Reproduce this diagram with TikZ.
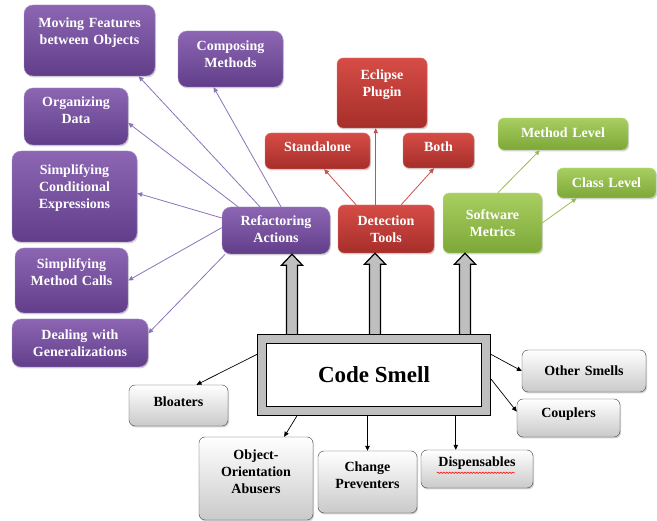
\documentclass[tikz,border=0pt]{standalone}
\usepackage{fontspec}
\setmainfont{Liberation Serif}
\usepackage{tikz}
\usetikzlibrary{
  arrows.meta,
  calc,
  shadows,
  decorations.pathmorphing
}
\definecolor{purptop}{RGB}{140,102,178}
\definecolor{purpbot}{RGB}{98,62,138}
\definecolor{purpedge}{RGB}{165,140,200}
\definecolor{purpline}{RGB}{140,115,185}
\definecolor{redtop}{RGB}{214,76,70}
\definecolor{redbot}{RGB}{166,46,42}
\definecolor{rededge}{RGB}{226,125,120}
\definecolor{redline}{RGB}{200,80,77}
\definecolor{greentop}{RGB}{168,206,96}
\definecolor{greenbot}{RGB}{124,168,56}
\definecolor{greenedge}{RGB}{192,222,142}
\definecolor{greenline}{RGB}{155,187,89}
\newcommand{\liftpad}[1]{\par\kern#1pt}

\begin{document}
\begin{tikzpicture}[x=1pt, y=-1pt,
  box/.style={rounded corners=6pt, align=center, inner xsep=0pt, inner ysep=0pt,
    font=\fontsize{14}{17}\selectfont\bfseries,
    drop shadow={shadow xshift=1pt, shadow yshift=-1.5pt, opacity=0.35}},
  wh/.style 2 args={text width=#1pt, minimum height=#2pt},
  lift/.style={execute at end node={\liftpad{#1}}},
  pbox/.style={box, rounded corners=9pt, top color=purptop, bottom color=purpbot, draw=purpedge, text=white},
  rbox/.style={box, top color=redtop, bottom color=redbot, draw=rededge, text=white},
  gbox/.style={box, top color=greentop, bottom color=greenbot, draw=greenedge, text=white},
  sbox/.style={box, top color=white, bottom color=gray!42, draw=black!75, text=black},
  smellbox/.style={draw=black, line width=1.3pt, double=gray!50, double distance=7.4pt,
    fill=white, minimum width=224pt, minimum height=72pt, outer sep=5pt,
    font=\fontsize{23}{26}\selectfont\bfseries},
  tip/.style={-{Triangle[length=5pt, width=4.5pt]}},
  pline/.style={tip, draw=purpline, line width=0.8pt},
  rline/.style={tip, draw=redline, line width=0.8pt},
  gline/.style={tip, draw=greenline, line width=0.8pt},
  kline/.style={tip, draw=black, line width=0.7pt},
  blockarrow/.style={draw=black, line width=1.2pt, fill=gray!50, line join=miter}]
  \useasboundingbox (0,0) rectangle (657,521);

  % Refactoring actions
  \node[pbox, wh={131}{71}, lift=15] (move) at (89.5,40.5) {Moving Features\\between Objects};
  \node[pbox, wh={105}{56}, lift=10] (compose) at (230.5,59) {Composing\\Methods};
  \node[pbox, wh={104}{57}, lift=13] (organize) at (76,116.5) {Organizing\\Data};
  \node[pbox, wh={125}{91}, lift=17] (condit) at (74.5,196.5) {Simplifying\\Conditional\\Expressions};
  \node[pbox, wh={113}{65}, lift=17] (calls) at (71.5,280.5) {Simplifying\\Method Calls};
  \node[pbox, wh={136}{48}] (general) at (80,343) {Dealing with\\Generalizations};
  \node[pbox, wh={108}{47}, lift=2] (refact) at (276,230.5) {Refactoring\\Actions};

  % Detection tools
  \node[rbox, wh={96}{48}] (detect) at (386,229) {Detection\\Tools};
  \node[rbox, wh={105}{36}, lift=8] (standalone) at (317.5,151) {Standalone};
  \node[rbox, wh={90}{70}, lift=16] (eclipse) at (382,93) {Eclipse\\Plugin};
  \node[rbox, wh={71}{35}, lift=7] (both) at (438.5,150.5) {Both};

  % Software metrics
  \node[gbox, wh={99}{60}] (metric) at (492.5,223) {Software\\Metrics};
  \node[gbox, wh={130}{32}, lift=2] (methlvl) at (563,134) {Method Level};
  \node[gbox, wh={99}{30}] (classlvl) at (606.5,183) {Class Level};

  % Smell categories
  \node[smellbox] (smell) at (374,375) {Code Smell};
  \node[sbox, wh={99}{41}, lift=8] (bloat) at (178.5,405.5) {Bloaters};
  \node[sbox, wh={114}{83}, lift=13] (oo) at (256,478.5) {Object-\\Orientation\\Abusers};
  \node[sbox, wh={99}{62}, lift=13] (change) at (367.5,482) {Change\\Preventers};
  \node[sbox, wh={112}{38}, lift=12] (disp) at (477,469) {Dispensables};
  \node[sbox, wh={124}{42}] (other) at (584,371) {Other Smells};
  \node[sbox, wh={103}{38}, lift=8] (coupl) at (568.5,418) {Couplers};
  % spell-check squiggle
  \draw[red, line width=0.5pt, decorate, decoration={snake, segment length=3pt, amplitude=0.7pt}]
    ($(disp.north west)+(16,23)$) -- ($(disp.north west)+(94,23)$);

  % Block arrows up from the smell box
  \path (smell.north) ++(-82,0) coordinate (up1)
        (smell.north) ++(1,0) coordinate (up2)
        (smell.north) ++(91,0) coordinate (up3);
  \foreach \src/\dst in {up1/refact, up2/detect, up3/metric} {
    \draw[blockarrow] ($(\src)+(-5.5,0)$) -- ($(\src|-\dst.south)+(-5.5,11)$) -- ++(-5,0)
      -- (\src|-\dst.south) -- ($(\src|-\dst.south)+(10.5,11)$) -- ++(-5,0) -- ($(\src)+(5.5,0)$);
  }

  % Purple connectors
  \draw[pline] (refact.124) -- (move.-36);
  \draw[pline] (refact.78) -- (compose.239);
  \draw[pline] (refact.148) -- (organize.-7);
  \draw[pline] (refact.167) -- (condit.3);
  \draw[pline] (refact.177) -- (calls.east);
  \draw[pline] (refact.205) -- (general.8);

  % Red connectors
  \draw[rline] (detect.141) -- (standalone.290);
  \draw[rline] (detect.113) -- (detect.113 |- eclipse.south);
  \draw[rline] (detect.58) -- (both.256);

  % Green connectors
  \draw[gline] (metric.80) -- (methlvl.215);
  \draw[gline] (metric.east) -- (classlvl.207);

  % Black connectors
  \coordinate (dtop) at ($(disp.north west)+(35,0)$);
  \draw[kline] (smell.170) -- (bloat.49);
  \draw[kline] (smell.208) -- (oo.56);
  \draw[kline] (smell.south -| change.north) -- (change.north);
  \draw[kline] (smell.south -| dtop) -- (dtop);
  \draw[kline] (smell.10) -- (other.west);
  \draw[kline] (smell.-2) -- (coupl.173);
\end{tikzpicture}
\end{document}
